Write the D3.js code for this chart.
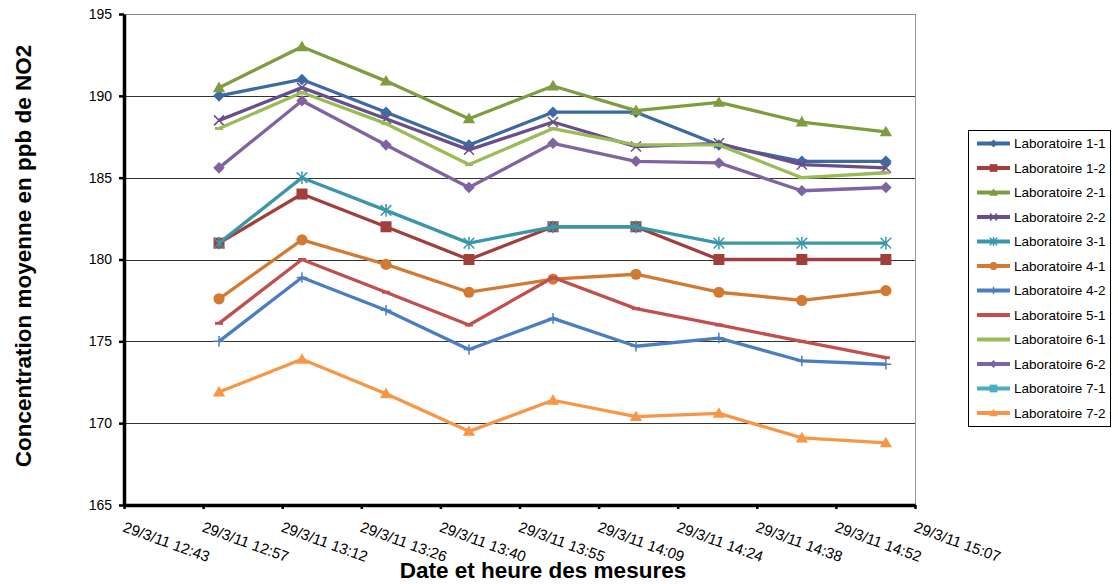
<!DOCTYPE html>
<html>
<head>
<meta charset="utf-8">
<script src="https://cdn.jsdelivr.net/npm/d3@7"></script>
<style>
  html, body { margin: 0; padding: 0; background: #fff; }
  svg { display: block; font-family: "Liberation Sans", Arial, sans-serif; }
</style>
</head>
<body>
<svg id="chart" width="1118" height="584"></svg>
<script>
// ---------- DATA ----------
const tickTimes = ["12:43:12","12:57:36","13:12:00","13:26:24","13:40:48","13:55:12","14:09:36","14:24:00","14:38:24","14:52:48","15:07:12"];
const measureTimes = ["13:00:30","13:15:36","13:30:54","13:46:00","14:01:18","14:16:24","14:31:30","14:46:36","15:01:54"];
const measureDate = "2011-03-29";
const yTicks = [165, 170, 175, 180, 185, 190, 195];

const seriesNames = ["Laboratoire 1-1","Laboratoire 1-2","Laboratoire 2-1","Laboratoire 2-2","Laboratoire 3-1","Laboratoire 4-1","Laboratoire 4-2","Laboratoire 5-1","Laboratoire 6-1","Laboratoire 6-2","Laboratoire 7-1","Laboratoire 7-2"];
const lab11 = [190, 191, 189, 187, 189, 189, 187, 186, 186];
const lab12 = [181, 184, 182, 180, 182, 182, 180, 180, 180];
const lab21 = [190.5, 193, 190.9, 188.6, 190.6, 189.1, 189.6, 188.4, 187.8];
const lab22 = [188.5, 190.5, 188.6, 186.7, 188.4, 186.9, 187.1, 185.8, 185.6];
const lab31 = [181, 185, 183, 181, 182, 182, 181, 181, 181];
const lab41 = [177.6, 181.2, 179.7, 178.0, 178.8, 179.1, 178.0, 177.5, 178.1];
const lab42 = [175, 178.9, 176.9, 174.5, 176.4, 174.7, 175.2, 173.8, 173.6];
const lab51 = [176.1, 180, 178, 176, 178.9, 177, 176, 175, 174];
const lab61 = [188, 190.2, 188.3, 185.8, 188, 187, 187, 185, 185.3];
const lab62 = [185.6, 189.7, 187, 184.4, 187.1, 186, 185.9, 184.2, 184.4];
const lab71 = [null, null, null, null, null, null, null, null, null];
const lab72 = [171.9, 173.9, 171.8, 169.5, 171.4, 170.4, 170.6, 169.1, 168.8];
const seriesValues = [lab11, lab12, lab21, lab22, lab31, lab41, lab42, lab51, lab61, lab62, lab71, lab72];

// ---------- STYLE ----------
const colors = ["#3D6AA2","#A03F3C","#7F9C41","#674F8C","#3A97AB","#D27A32","#4A7EC0","#C0504D","#9BBB59","#8064A2","#4BACC6","#F79646"];
const markers = ["diamond","square","triangle","x","star","circle","plus","dash","dash","diamond","square","triangle"];

const svg = d3.select("#chart");
const L = 124, R = 915, T = 14, B = 505;
const parse = d3.timeParse("%Y-%m-%d %H:%M:%S");
const fmt = d3.timeFormat("%-d/%-m/%y %H:%M");
const tickDates = tickTimes.map(t => parse(measureDate + " " + t));
const pointDates = measureTimes.map(t => parse(measureDate + " " + t));

const x = d3.scaleTime().domain([tickDates[0], tickDates[tickDates.length - 1]]).range([L, R]);
const y = d3.scaleLinear().domain([165, 195]).range([B, T]);

// plot area border (right) and gridlines
svg.append("line").attr("x1", R + 0.5).attr("x2", R + 0.5).attr("y1", T).attr("y2", B)
  .attr("stroke", "#9a9a9a").attr("stroke-width", 1);
svg.append("g").selectAll("line").data(yTicks.filter(v => v > 165)).join("line")
  .attr("x1", L).attr("x2", R)
  .attr("y1", d => Math.round(y(d)) + 0.5).attr("y2", d => Math.round(y(d)) + 0.5)
  .attr("stroke", d => d === 195 ? "#8a8a8a" : "#333").attr("stroke-width", 1);

// axes
const yAxis = d3.axisLeft(y).tickValues(yTicks).tickSize(5).tickSizeOuter(0).tickFormat(d3.format("d"));
const gy = svg.append("g").attr("transform", `translate(${L},0)`).call(yAxis);
gy.select(".domain").attr("stroke", "#000").attr("stroke-width", 3.5);
gy.selectAll(".tick line").attr("stroke", "#000").attr("stroke-width", 2.5);
gy.selectAll(".tick text").attr("x", -12).attr("font-size", 14).attr("fill", "#000")
  .attr("font-family", "Liberation Sans, Arial, sans-serif");

const xAxis = d3.axisBottom(x).tickValues(tickDates).tickSize(4).tickSizeOuter(0).tickFormat(fmt);
const gx = svg.append("g").attr("transform", `translate(0,${B})`).call(xAxis);
gx.select(".domain").attr("stroke", "#000").attr("stroke-width", 3.5);
gx.selectAll(".tick line").attr("stroke", "#000").attr("stroke-width", 2.5);
gx.selectAll(".tick text")
  .attr("font-size", 15).attr("fill", "#000").attr("font-family", "Liberation Sans, Arial, sans-serif")
  .attr("text-anchor", "start").attr("dy", null)
  .attr("y", 0).attr("x", 0)
  .attr("transform", "translate(2,14) rotate(20) translate(0,13)");

// marker drawing
function drawMarker(g, type, color, s) {
  if (type === "diamond") {
    g.append("path").attr("d", `M0,${-s}L${s},0L0,${s}L${-s},0Z`).attr("fill", color);
  } else if (type === "square") {
    g.append("rect").attr("x", -s).attr("y", -s).attr("width", 2 * s).attr("height", 2 * s).attr("fill", color);
  } else if (type === "triangle") {
    g.append("path").attr("d", `M0,${-s * 1.1}L${s * 1.1},${s * 0.8}L${-s * 1.1},${s * 0.8}Z`).attr("fill", color);
  } else if (type === "circle") {
    g.append("circle").attr("r", s).attr("fill", color);
  } else if (type === "x") {
    g.append("path").attr("d", `M${-s},${-s}L${s},${s}M${-s},${s}L${s},${-s}`).attr("stroke", color).attr("stroke-width", 1.5);
  } else if (type === "star") {
    g.append("path").attr("d", `M${-s},${-s}L${s},${s}M${-s},${s}L${s},${-s}M0,${-s * 1.2}L0,${s * 1.2}`).attr("stroke", color).attr("stroke-width", 1.5);
  } else if (type === "plus") {
    g.append("path").attr("d", `M${-s},0L${s},0M0,${-s}L0,${s}`).attr("stroke", color).attr("stroke-width", 1.5);
  } else if (type === "dash") {
    g.append("rect").attr("x", -s * 0.8).attr("y", -1.5).attr("width", s * 1.6).attr("height", 3).attr("fill", color);
  }
}
const markerSize = {diamond: 5.8, square: 5.5, triangle: 5.6, circle: 5.6, x: 5, star: 5.3, plus: 5.3, dash: 5};

// series
const line = d3.line().defined(d => d.v != null).x(d => x(d.t)).y(d => y(d.v));
seriesValues.forEach((vals, i) => {
  const pts = vals.map((v, j) => ({t: pointDates[j], v}));
  const g = svg.append("g");
  g.append("path").datum(pts).attr("d", line).attr("fill", "none")
    .attr("stroke", colors[i]).attr("stroke-width", 3.3).attr("stroke-linejoin", "round");
  pts.filter(p => p.v != null).forEach(p => {
    const m = g.append("g").attr("transform", `translate(${x(p.t)},${y(p.v)})`);
    drawMarker(m, markers[i], colors[i], markerSize[markers[i]]);
  });
});

// legend
const lg = svg.append("g");
lg.append("rect").attr("x", 968.5).attr("y", 130.5).attr("width", 142).attr("height", 296)
  .attr("fill", "#fff").attr("stroke", "#000").attr("stroke-width", 1);
seriesNames.forEach((name, i) => {
  const yy = 143.5 + i * 24.5;
  const g = lg.append("g");
  g.append("line").attr("x1", 977).attr("x2", 1010).attr("y1", yy).attr("y2", yy)
    .attr("stroke", colors[i]).attr("stroke-width", 4);
  const m = g.append("g").attr("transform", `translate(993.5,${yy})`);
  drawMarker(m, markers[i], colors[i], markerSize[markers[i]] * 0.7);
  g.append("text").attr("x", 1014).attr("y", yy + 4.5).attr("font-size", 13.5).attr("fill", "#000").text(name);
});

// axis titles
svg.append("text").attr("x", 543).attr("y", 578).attr("text-anchor", "middle")
  .attr("font-size", 22.5).attr("font-weight", "bold").attr("fill", "#000").text("Date et heure des mesures");
svg.append("text").attr("transform", "translate(31,256) rotate(-90)").attr("text-anchor", "middle")
  .attr("font-size", 22.5).attr("font-weight", "bold").attr("fill", "#000").text("Concentration moyenne en ppb de NO2");
</script>
</body>
</html>
